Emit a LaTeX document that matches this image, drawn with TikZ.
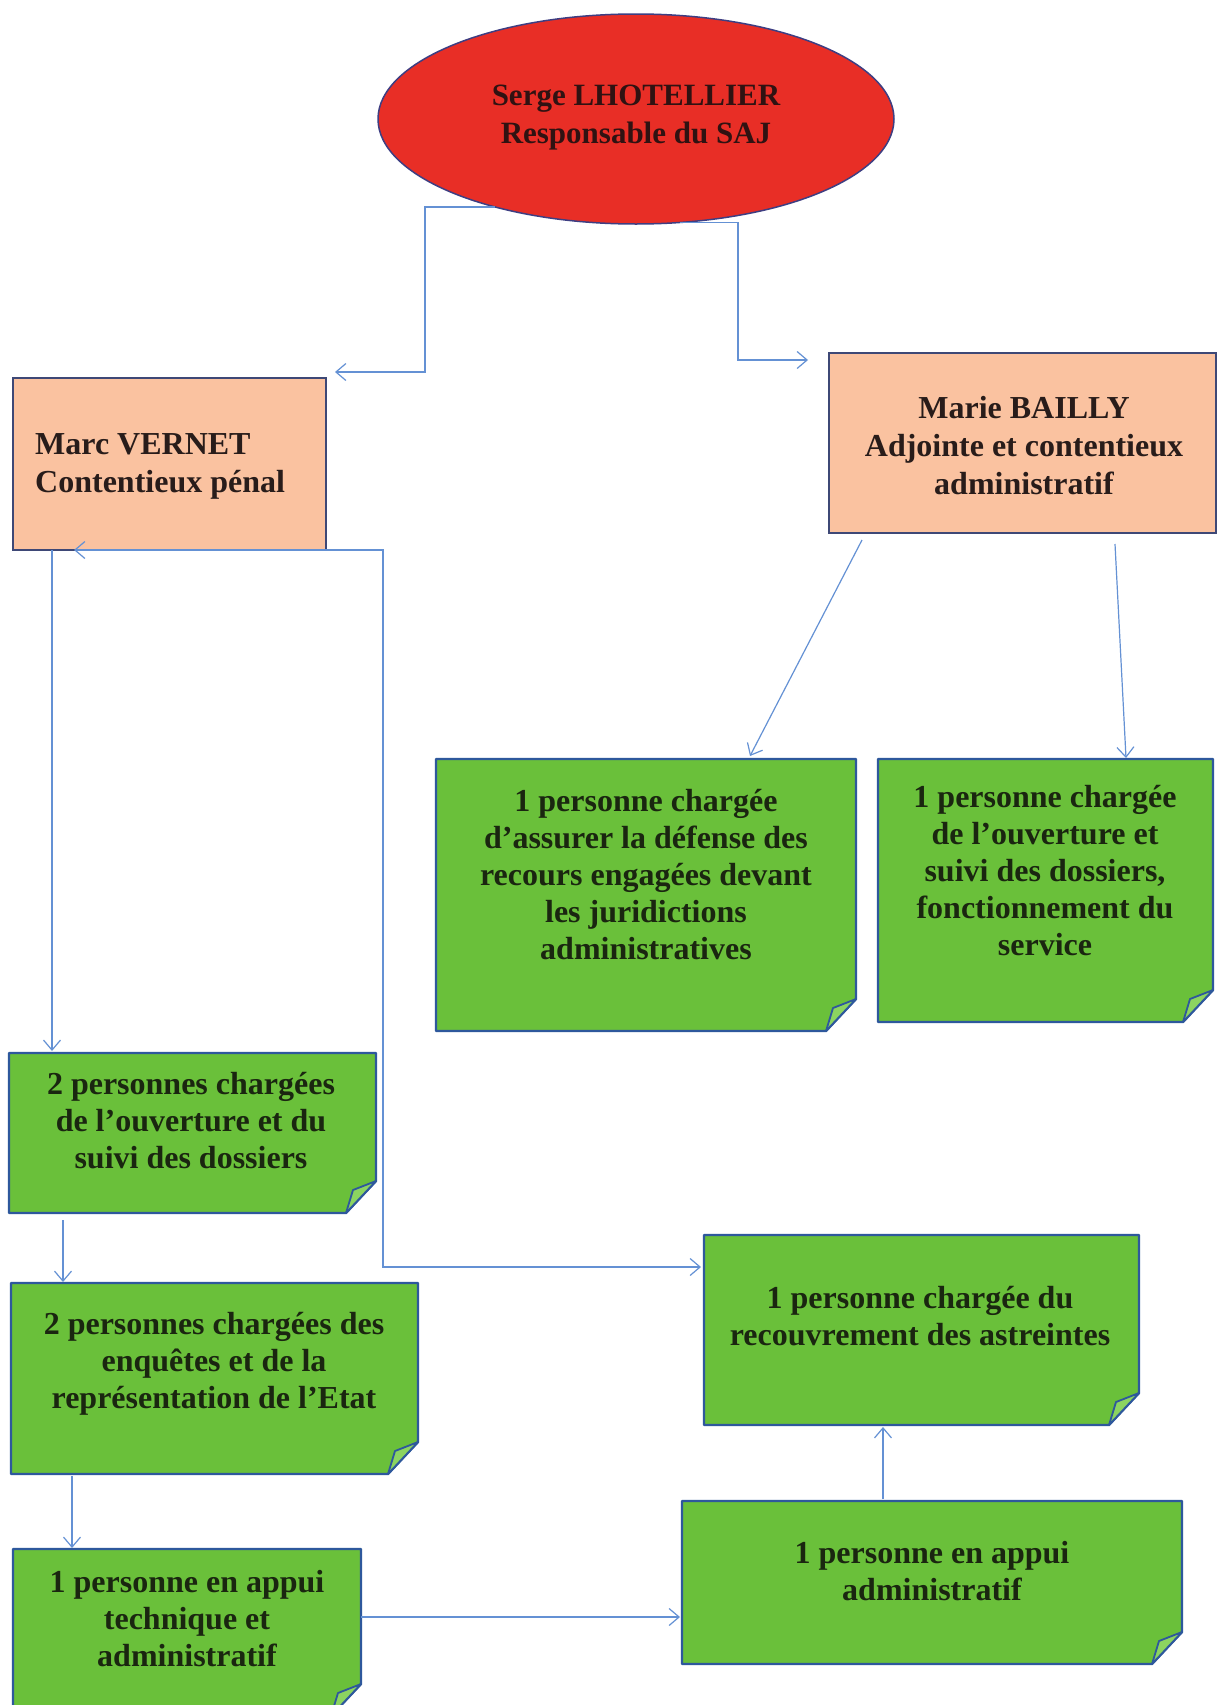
\documentclass[tikz,border=0pt]{standalone}
\usepackage{fontspec}
\setmainfont{Liberation Serif}
\usetikzlibrary{arrows.meta,calc,shapes.geometric}
\definecolor{conncol}{RGB}{100,145,212}
\definecolor{gfillc}{RGB}{106,192,58}
\definecolor{gfoldc}{RGB}{140,212,96}
\definecolor{gborderc}{RGB}{46,88,156}
\definecolor{ofillc}{RGB}{250,194,160}
\definecolor{oborderc}{RGB}{62,72,118}
\definecolor{efillc}{RGB}{232,46,38}
\definecolor{eborderc}{RGB}{62,62,130}
\definecolor{gtextc}{RGB}{26,38,16}
\definecolor{otextc}{RGB}{40,28,26}
\definecolor{etextc}{RGB}{48,18,18}
\newcommand{\GreenNote}[5]{%
  \node[gbox, minimum width=#4pt, minimum height=#5pt] (#1) at (#2,#3) {};
  \path[gshape] (#1.north west) -- (#1.north east) -- ($(#1.south east)+(0,-32)$) -- ($(#1.south east)+(-30,0)$) -- (#1.south west) -- cycle;
  \path[gfold] ($(#1.south east)+(0,-32)$) -- ($(#1.south east)+(-23,-23)$) -- ($(#1.south east)+(-30,0)$) -- cycle;
}
\begin{document}
\begin{tikzpicture}[x=1pt,y=-1pt,
  >={Straight Barb[length=10pt,width=17pt]},
  conn/.style={draw=conncol, line width=1.2pt},
  gbox/.style={rectangle, draw=none, fill=none, outer sep=0pt, inner sep=0pt},
  gshape/.style={draw=gborderc, fill=gfillc, line width=2.4pt, line join=round},
  gfold/.style={draw=gborderc, fill=gfoldc, line width=1.8pt, line join=round},
  obox/.style={rectangle, draw=oborderc, fill=ofillc, line width=2pt, outer sep=0pt, inner sep=0pt},
  ellnode/.style={ellipse, draw=eborderc, fill=efillc, line width=1.5pt, inner sep=0pt, outer sep=0pt},
  gtext/.style={font=\fontsize{32}{37}\selectfont\bfseries, text=gtextc, align=center, inner sep=0pt},
  otext/.style={font=\fontsize{32}{38}\selectfont\bfseries, text=otextc, align=center, inner sep=0pt},
  etext/.style={font=\fontsize{31}{38}\selectfont\bfseries, text=etextc, align=center, inner sep=0pt}]
\fill[white] (0,0) rectangle (1218,1705);
\useasboundingbox (0,0) rectangle (1218,1705);

% top ellipse
\node[ellnode, minimum width=516pt, minimum height=210pt] (ell) at (636,119) {};
\node[etext] (tell) at (636,118) {Serge LHOTELLIER\\Responsable du SAJ};

% orange boxes
\node[obox, minimum width=313pt, minimum height=172pt] (marc) at (169.5,464) {};
\node[otext, anchor=west, align=left] (tmarc) at (35,466) {Marc VERNET\\Contentieux pénal};
\node[obox, minimum width=387pt, minimum height=180pt] (marie) at (1022.5,443) {};
\node[otext] (tmarie) at (1024,446) {Marie BAILLY\\Adjointe et contentieux\\administratif};

% green notes
\GreenNote{a}{646}{895}{420}{272}
\node[gtext] (ta) at (646,875) {1 personne chargée\\d’assurer la défense des\\recours engagées devant\\les juridictions\\administratives};
\GreenNote{b}{1045.5}{890.5}{335}{263}
\node[gtext] (tb) at (1045,871) {1 personne chargée\\de l’ouverture et\\suivi des dossiers,\\fonctionnement du\\service};
\GreenNote{c}{192.5}{1133}{367}{160}
\node[gtext] (tc) at (191,1121) {2 personnes chargées\\de l’ouverture et du\\suivi des dossiers};
\GreenNote{d}{214.5}{1378.5}{407}{191}
\node[gtext] (td) at (214,1364) {2 personnes chargées des\\enquêtes et de la\\représentation de l’Etat};
\GreenNote{e}{187}{1632.5}{348}{167}
\node[gtext] (te) at (187,1619) {1 personne en appui\\technique et\\administratif};
\GreenNote{f}{921.5}{1330}{435}{190}
\node[gtext] (tf) at (920,1316) {1 personne chargée du\\recouvrement des astreintes};
\GreenNote{g}{932}{1582.5}{500}{163}
\node[gtext] (tg) at (932,1571) {1 personne en appui\\administratif};

% connectors
\coordinate (m1) at ($(marc.north east)+(9,-6)$);
\draw[conn,->] (ell.212) -| ($(m1)+(90,0)$) -- (m1);
\coordinate (m2) at ($(marie.north west)+(-21,7)$);
\draw[conn,->] (ell.293) -| ($(m2)+(-70,0)$) -- (m2);
\draw[conn,->] ($(marc.south west)+(39,0)$) -- ($(c.north west)+(43,-2)$);
\draw[conn,<->] ($(marc.south west)+(61,0)$) -- ($(marc.south east)+(57,0)$) |- ($(f.north west)+(-3,32)$);
\draw[conn,->] ($(c.south west)+(54,7)$) -- ($(d.north west)+(52,-1)$);
\draw[conn,->] ($(d.south west)+(61,2)$) -- ($(e.north west)+(59,-1)$);
\draw[conn,->] ($(e.north east)+(0,68)$) -- ($(g.north west)+(-2,116)$);
\draw[conn,->] ($(g.north west)+(201,-2)$) -- ($(f.south west)+(179,2)$);
\draw[conn,->] ($(marie.south west)+(33,7)$) -- ($(a.north west)+(314,-3)$);
\draw[conn,->] ($(marie.south west)+(286,11)$) -- ($(b.north west)+(248,-1)$);
\end{tikzpicture}
\end{document}
